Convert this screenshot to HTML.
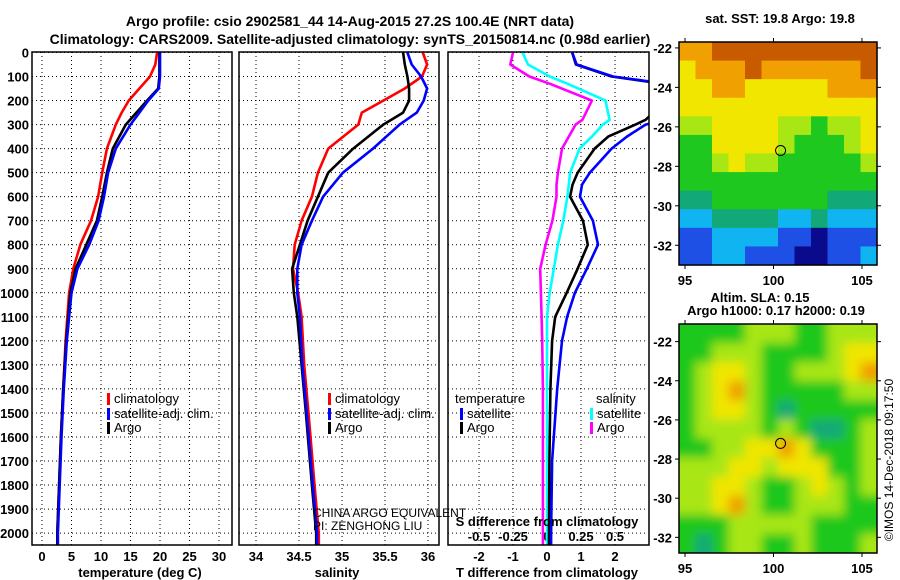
<!DOCTYPE html>
<html><head><meta charset="utf-8"><style>
body{margin:0;background:#fff}
svg{display:block;font-family:"Liberation Sans",sans-serif}
.b{font-weight:bold}
</style></head><body>
<svg id="s" width="900" height="580" viewBox="0 0 900 580" xmlns="http://www.w3.org/2000/svg">
<defs>
<clipPath id="c1"><rect x="32" y="52" width="200" height="493"/></clipPath>
<clipPath id="c2"><rect x="239" y="52" width="200" height="493"/></clipPath>
<clipPath id="c3"><rect x="448" y="52" width="201" height="493"/></clipPath>
<clipPath id="cm2"><rect x="679" y="324" width="198" height="229"/></clipPath>
<filter id="bl"><feGaussianBlur stdDeviation="5"/></filter>
</defs>
<text class="b" x="350" y="26" font-size="14" text-anchor="middle">Argo profile: csio 2902581_44 14-Aug-2015 27.2S 100.4E (NRT data)</text>
<text class="b" x="350" y="44" font-size="14" text-anchor="middle">Climatology: CARS2009. Satellite-adjusted climatology: synTS_20150814.nc (0.98d earlier)</text>
<g id="g"></g>
</svg>
<script>
// ---- data ----
const depthT = [0,50,100,150,200,250,300,400,500,600,700,800,900,1000,1200,1400,1600,1800,2000,2050];
const tempClim = [19.5,19.2,18.3,16.5,14.7,13.5,12.5,11.0,10.2,9.5,8.3,6.5,5.3,4.6,4.0,3.6,3.2,2.9,2.6,2.6];
const tempSat  = [20.0,20.0,20.0,19.8,18.0,16.5,15.0,12.5,11.2,10.5,9.6,8.0,6.0,5.0,4.2,3.7,3.3,3.0,2.7,2.7];
const tempArgo = [19.9,19.9,19.9,19.7,17.8,16.0,14.2,12.0,11.0,10.2,9.3,7.5,5.7,4.8,4.1,3.6,3.2,2.9,2.6,2.6];
const depthS = [0,50,100,150,200,250,300,400,500,600,700,800,900,1000,1100,1300,1500,1800,2000,2050];
const salClim = [35.94,35.99,35.93,35.73,35.48,35.23,35.19,34.84,34.72,34.65,34.53,34.45,34.43,34.49,34.53,34.56,34.61,34.68,34.73,34.73];
const salSat  = [35.76,35.81,35.92,35.99,35.95,35.87,35.67,35.36,35.01,34.78,34.65,34.53,34.48,34.48,34.51,34.54,34.59,34.66,34.71,34.71];
const salArgo = [35.71,35.73,35.76,35.78,35.78,35.71,35.48,35.13,34.84,34.72,34.60,34.51,34.42,34.44,34.48,34.53,34.58,34.65,34.70,34.70];
const depthD = [0,50,100,130,200,280,300,350,400,500,550,600,700,800,900,1000,1100,1200,1400,1700,2000,2050];
const tdiffSat  = [0.74,0.87,1.94,3.5,3.5,3.5,2.9,2.35,1.9,1.26,1.03,0.97,1.35,1.5,1.17,0.82,0.59,0.44,0.3,0.15,0.12,0.12];
const tdiffArgo = [0.74,0.85,1.9,3.4,3.5,2.9,2.6,1.8,1.4,0.9,0.75,0.68,1.06,1.2,0.9,0.58,0.24,0.15,0.1,0.07,0.06,0.06];
const sdiffSat  = [-0.18,-0.14,0.02,0.15,0.43,0.46,0.41,0.33,0.24,0.17,0.16,0.15,0.12,0.08,0.05,0.02,0.0,0.0,0.0,0.0,0.0,0.0];
const sdiffArgo = [-0.25,-0.27,-0.13,0.02,0.33,0.26,0.21,0.16,0.11,0.08,0.07,0.07,0.04,-0.01,-0.05,-0.045,-0.04,-0.035,-0.03,-0.03,-0.03,-0.03];
const depthTicks = [0,100,200,300,400,500,600,700,800,900,1000,1100,1200,1300,1400,1500,1600,1700,1800,1900,2000];
const tTicks = [0,5,10,15,20,25,30];
const sTicks = [34,34.5,35,35.5,36];
const tdTicks = [-2,-1,0,1,2];
const sdTicks = [-0.5,-0.25,0,0.25,0.5];
const sstGrid = [
[7,7,8,8,8,8,8,8,8,8,8,8],
[6,7,7,7,8,7,7,7,7,7,7,8],
[6,6,7,7,6,6,6,6,6,7,7,7],
[6,6,6,6,6,6,6,6,6,6,6,6],
[5,5,6,6,6,6,5,5,4,5,5,6],
[4,4,6,6,6,6,5,4,4,4,5,6],
[4,4,5,6,5,5,4,4,4,4,4,5],
[4,4,4,4,4,4,4,4,4,4,4,4],
[3,3,4,4,4,4,4,4,4,3,3,3],
[2,2,3,3,3,3,2,2,3,2,2,2],
[1,1,2,2,2,2,1,1,0,1,1,1],
[1,1,2,2,1,1,1,0,0,1,1,2]];
const slaGrid = [
[4,4,4,4,5,5,5,4,4,5,5,5],
[4,4,5,5,5,4,4,4,4,5,6,6],
[4,5,6,6,5,4,4,5,5,5,6,7],
[4,5,6,7,5,4,4,4,4,4,5,5],
[4,5,6,6,5,4,3,4,4,4,4,4],
[4,5,5,5,5,4,5,4,3,3,4,5],
[4,4,5,5,6,6,7,6,4,4,4,5],
[5,5,5,6,6,5,6,6,6,4,4,5],
[5,5,6,6,5,4,4,5,6,5,4,5],
[5,5,6,7,5,4,4,5,5,5,4,4],
[4,4,4,5,5,5,5,5,4,4,4,4],
[4,3,4,5,5,4,4,5,4,4,4,5]];
const latTicks = [-22,-24,-26,-28,-30,-32];
const lonTicks = [95,100,105];
const floatLon = 100.4, floatLat = -27.2;

// ---- helpers ----
const NS="http://www.w3.org/2000/svg";
const G=document.getElementById('g');
function mk(tag,attrs,parent){const e=document.createElementNS(NS,tag);for(const k in attrs)e.setAttribute(k,attrs[k]);(parent||G).appendChild(e);return e;}
const yD = d => 52.5 + d*0.2403;
const xT = v => 42 + v*5.9;
const xS = v => 256 + (v-34)*86;
const xTD = v => 547 + v*34;
const xSD = v => 547 + v*136;
const pal=['#0a0a8c','#1e50e6','#10b4f0','#12a878','#1ec81e','#a8e614','#f0e600','#f0a000','#c85a00'];

function panel(x0,name,ticks,xf,labels,ylab){
  const grp=mk('g',{});
  
  
  depthTicks.forEach(d=>{const l=mk('line',{x1:x0,x2:x0+200,y1:yD(d),y2:yD(d),stroke:'#000','stroke-dasharray':'1,3'},grp);
    
    });
  ticks.forEach((t,i)=>{const x=xf(t);const l=mk('line',{x1:x,x2:x,y1:52,y2:545,stroke:'#000','stroke-dasharray':'1,3'},grp);
    
    
    if(labels){const tx=mk('text',{x:x,y:561,'font-size':13,'text-anchor':'middle',class:'b'},grp);tx.textContent=labels[i];
      
      }});
  if(ylab){depthTicks.forEach(d=>{const tx=mk('text',{x:29,y:yD(d)+5,'font-size':13,'text-anchor':'end',class:'b'});tx.textContent=d;
    
    });}
  return grp;
}
function border(x0){const r=mk('rect',{x:x0,y:52,width:(x0==448?201:200),height:493,fill:'none',stroke:'#000','stroke-width':1.5});
  
  }
function line(depths,vals,xf,color,clip,name,w){
  const pts=depths.map((d,i)=>xf(vals[i]).toFixed(1)+','+yD(d).toFixed(1)).join(' ');
  const p=mk('polyline',{points:pts,fill:'none',stroke:color,'stroke-width':w||2.6,'clip-path':'url(#'+clip+')','stroke-linejoin':'round'});
  
  
}
function txt(x,y,s,size,cls,anchor,name){const t=mk('text',{x:x,y:y,'font-size':size,'text-anchor':anchor||'start'});if(cls)t.setAttribute('class',cls);t.textContent=s;
  
  return t;}
function legItem(x,y,color,label,name){const r=mk('rect',{x:x,y:y-10,width:3,height:12,fill:color});
  
  
  txt(x+7,y,label,13,'','start',name);}

// panel 1
panel(32,'temperature-panel',tTicks,xT,tTicks,true);
line(depthT,tempClim,xT,'#f00','c1','temp-climatology-line');
line(depthT,tempArgo,xT,'#000','c1','temp-argo-line');
line(depthT,tempSat,xT,'#00f','c1','temp-satellite-line');
border(32);
txt(140,577,'temperature (deg C)',13,'b','middle','temperature-axis-title');
legItem(107,403,'#f00','climatology','legend-climatology');
legItem(107,418,'#00f','satellite-adj. clim.','legend-satellite-adj');
legItem(107,432,'#000','Argo','legend-argo');

// panel 2
panel(239,'salinity-panel',sTicks,xS,sTicks.map(String),false);
line(depthS,salClim,xS,'#f00','c2','sal-climatology-line');
line(depthS,salArgo,xS,'#000','c2','sal-argo-line');
line(depthS,salSat,xS,'#00f','c2','sal-satellite-line');
border(239);
txt(337,577,'salinity',13,'b','middle','salinity-axis-title');
legItem(328,403,'#f00','climatology','legend-climatology-2');
legItem(328,418,'#00f','satellite-adj. clim.','legend-satellite-adj-2');
legItem(328,432,'#000','Argo','legend-argo-2');
txt(313,517,'CHINA ARGO EQUIVALENT',12,'','start','pi-institution');
txt(313,530,'PI: ZENGHONG LIU',12,'','start','pi-name');

// panel 3
panel(448,'difference-panel',tdTicks,xTD,tdTicks.map(String),false);
sdTicks.forEach(v=>{const t=txt(xSD(v),541,String(v),13,'b','middle','s-diff-tick-label');});
line(depthD,sdiffArgo,xSD,'#f0f','c3','sdiff-argo-line');
line(depthD,sdiffSat,xSD,'#0ff','c3','sdiff-satellite-line');
line(depthD,tdiffArgo,xTD,'#000','c3','tdiff-argo-line');
line(depthD,tdiffSat,xTD,'#00f','c3','tdiff-satellite-line');
border(448);
txt(547,526,'S difference from climatology',13,'b','middle','s-diff-axis-title');
txt(547,577,'T difference from climatology',13,'b','middle','t-diff-axis-title');
txt(455,403,'temperature',13,'','start','legend-temperature-header');
txt(596,403,'salinity',13,'','start','legend-salinity-header');
legItem(460,418,'#00f','satellite','legend-t-satellite');
legItem(460,432,'#000','Argo','legend-t-argo');
legItem(590,418,'#0ff','satellite','legend-s-satellite');
legItem(590,432,'#f0f','Argo','legend-s-argo');

// maps
function map(top,bot,latTop,latBot,grid,name,title,blur){
  const L=679,R=877,lonL=94.66,lonR=105.85;
  const xL=v=>L+(v-lonL)*(R-L)/(lonR-lonL);
  const yL=v=>top+(latTop-v)*(bot-top)/(latTop-latBot);
  const grp=mk('g',{});
  
  
  const inner=mk('g',blur?{filter:'url(#bl)'}:{},blur?mk('g',{'clip-path':'url(#cm2)'},grp):grp);
  const rows=grid.length,cols=grid[0].length,cw=(R-L)/cols,ch=(bot-top)/rows;
  const ext=blur?12:0;
  grid.forEach((row,r)=>row.forEach((v,c)=>{
    let x=L+c*cw,y=top+r*ch,w=cw+0.6,h=ch+0.6;
    if(blur){if(c==0){x-=ext;w+=ext;} if(c==cols-1)w+=ext; if(r==0){y-=ext;h+=ext;} if(r==rows-1)h+=ext;}
    const cell=mk('rect',{x:x,y:y,width:w,height:h,fill:pal[v]},inner);
    
    
  }));
  const fr=mk('rect',{x:L,y:top,width:R-L,height:bot-top,fill:'none',stroke:'#000','stroke-width':1.5},grp);
  
  
  latTicks.forEach(v=>{const y=yL(v);
    mk('line',{x1:L-4,x2:L,y1:y,y2:y,stroke:'#000'},grp);mk('line',{x1:R,x2:R+4,y1:y,y2:y,stroke:'#000'},grp);
    txt(L-7,y+5,String(v),13,'b','end','lat-tick-label');});
  lonTicks.forEach(v=>{const x=xL(v);
    mk('line',{x1:x,x2:x,y1:bot,y2:bot+4,stroke:'#000'},grp);mk('line',{x1:x,x2:x,y1:top-4,y2:top,stroke:'#000'},grp);
    txt(x,bot+20,String(v),13,'b','middle','lon-tick-label');});
  const c=mk('ellipse',{cx:xL(floatLon),cy:yL(floatLat),rx:5,ry:5,fill:'none',stroke:'#000','stroke-width':1},grp);
  
  
}
map(42,265,-21.7,-33.0,sstGrid,'sst-map',true,false);
map(324,553,-21.1,-32.8,slaGrid,'sla-map',true,true);
txt(780,23,'sat. SST: 19.8  Argo: 19.8',13,'b','middle','sst-map-title');
txt(760,302,'Altim. SLA: 0.15',13,'b','middle','sla-map-title');
txt(776,315,'Argo h1000: 0.17 h2000: 0.19',13,'b','middle','sla-map-subtitle');
const cp=txt(0,0,'©IMOS 14-Dec-2018 09:17:50',12,'','middle','copyright-timestamp');
cp.setAttribute('transform','translate(893,460) rotate(-90)');
</script>
</body></html>
